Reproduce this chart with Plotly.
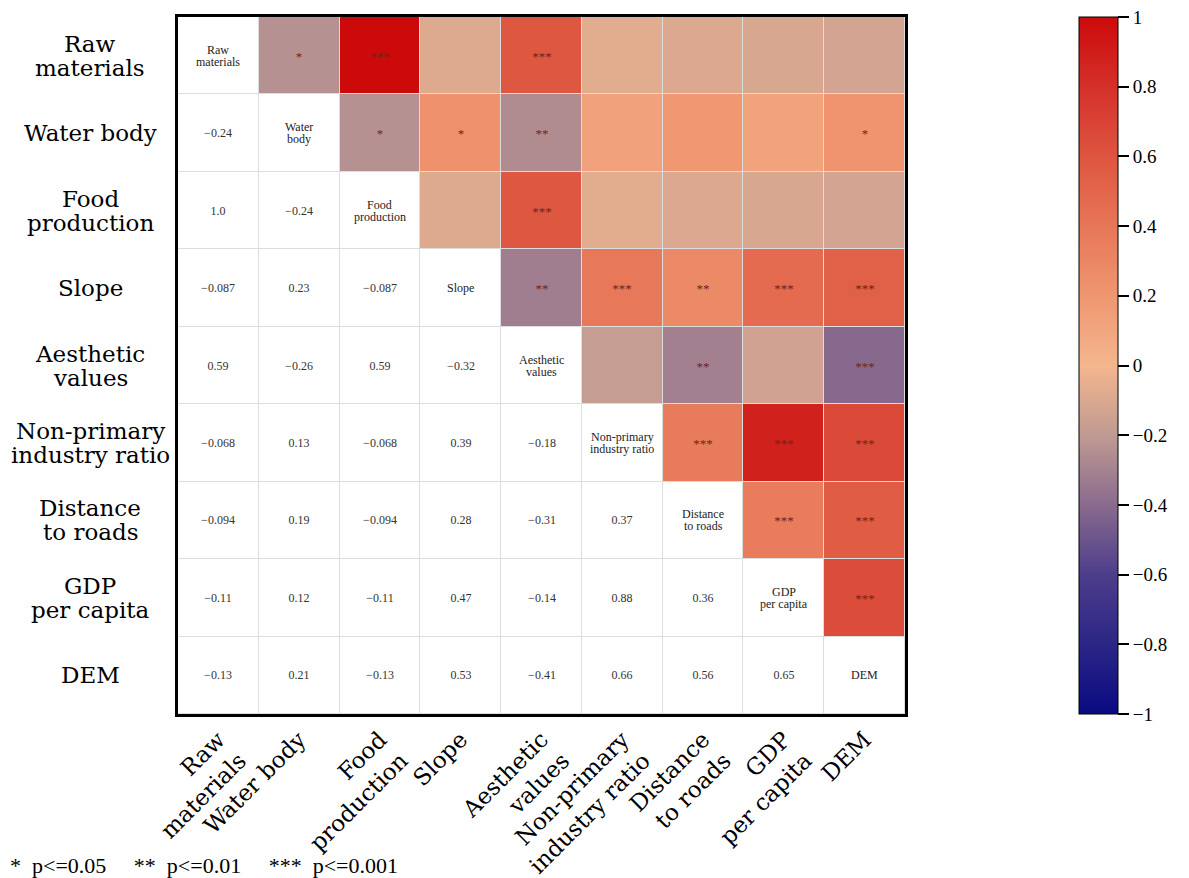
import numpy as np
import plotly.graph_objects as go

labels = ["Raw<br>materials", "Water body", "Food<br>production", "Slope",
          "Aesthetic<br>values", "Non-primary<br>industry ratio",
          "Distance<br>to roads", "GDP<br>per capita", "DEM"]
# the diagonal cells break "Water body" over two lines
diag_labels = ["Raw<br>materials", "Water<br>body", "Food<br>production", "Slope",
               "Aesthetic<br>values", "Non-primary<br>industry ratio",
               "Distance<br>to roads", "GDP<br>per capita", "DEM"]

# lower triangle of the correlation matrix, row by row
corr_rows = [
    [],
    [-0.24],
    [1.0, -0.24],
    [-0.087, 0.23, -0.087],
    [0.59, -0.26, 0.59, -0.32],
    [-0.068, 0.13, -0.068, 0.39, -0.18],
    [-0.094, 0.19, -0.094, 0.28, -0.31, 0.37],
    [-0.11, 0.12, -0.11, 0.47, -0.14, 0.88, 0.36],
    [-0.13, 0.21, -0.13, 0.53, -0.41, 0.66, 0.56, 0.65],
]

# significance stars for the upper triangle, keyed by (row, col)
stars = {
    (0, 1): "*", (0, 2): "***", (0, 4): "***",
    (1, 2): "*", (1, 3): "*", (1, 4): "**", (1, 8): "*",
    (2, 4): "***",
    (3, 4): "**", (3, 5): "***", (3, 6): "**", (3, 7): "***", (3, 8): "***",
    (4, 6): "**", (4, 8): "***",
    (5, 6): "***", (5, 7): "***", (5, 8): "***",
    (6, 7): "***", (6, 8): "***",
    (7, 8): "***",
}

cbar_ticks = [-1, -0.8, -0.6, -0.4, -0.2, 0, 0.2, 0.4, 0.6, 0.8, 1]

colorscale = [
    [0.0, "#0a0a82"], [0.1, "#2b2686"], [0.2, "#4d3d8b"], [0.3, "#8a6b8e"],
    [0.4, "#c09a92"], [0.5, "#f4b68e"], [0.6, "#ef9670"], [0.7, "#e77658"],
    [0.8, "#de5540"], [0.9, "#d5302a"], [1.0, "#cc0a0a"],
]

n = len(labels)
corr = np.eye(n)
for i, row in enumerate(corr_rows):
    for j, v in enumerate(row):
        corr[i, j] = v
        corr[j, i] = v


def fmt(v):
    if v in (-1, 0, 1) and isinstance(v, int):
        return str(v).replace("-", "\u2212")
    s = f"{v:.2g}"
    if "." not in s:
        s += ".0"
    return s.replace("-", "\u2212")


z_up = np.full((n, n), np.nan)
t_up = [["" for _ in range(n)] for _ in range(n)]
z_low = np.full((n, n), np.nan)
t_low = [["" for _ in range(n)] for _ in range(n)]
for i in range(n):
    for j in range(n):
        if j > i:
            z_up[i, j] = corr[i, j]
            t_up[i][j] = stars.get((i, j), "")
        else:
            z_low[i, j] = 0
            t_low[i][j] = "" if i == j else fmt(corr[i, j])

x = list(range(n))
serif = "DejaVu Serif"
numfont = "Liberation Serif"

fig = go.Figure()
fig.add_trace(go.Heatmap(
    z=z_low, x=x, y=x, text=t_low, texttemplate="%{text}",
    textfont=dict(family=numfont, size=12, color="#333333"),
    colorscale=[[0, "white"], [1, "white"]], showscale=False,
    xgap=1, ygap=1, hoverinfo="skip"))
fig.add_trace(go.Heatmap(
    z=z_up, x=x, y=x, text=t_up, texttemplate="%{text}",
    textfont=dict(family=numfont, size=13, color="#6e2418"),
    colorscale=colorscale, zmin=-1, zmax=1, xgap=1, ygap=1,
    colorbar=dict(
        x=1.239, xanchor="left", xref="paper", y=0.5, yanchor="middle",
        len=1.0, lenmode="fraction", thickness=39, ypad=0, xpad=0,
        outlinewidth=1, outlinecolor="black", ticklabeloverflow="allow",
        tickmode="array", tickvals=cbar_ticks,
        ticktext=[fmt(t) for t in cbar_ticks],
        ticks="outside", ticklen=11, tickwidth=2, tickcolor="black",
        tickfont=dict(family=numfont, size=19, color="black"),
    )))

fig.update_xaxes(
    tickmode="array", tickvals=x, ticktext=labels, tickangle=-45,
    tickfont=dict(family=serif, size=23, color="black"),
    range=[-0.5, n - 0.5], showgrid=False, zeroline=False, automargin=False,
    showline=True, linewidth=3, linecolor="black", mirror=True, ticks="")
fig.update_yaxes(
    tickmode="array", tickvals=x, ticktext=[""] * n,
    range=[n - 0.5, -0.5], showgrid=False, zeroline=False, automargin=False,
    showline=True, linewidth=3, linecolor="black", mirror=True, ticks="")


def stacked(text, xref, xval, yval, size, gap, color):
    # multi-line text with tighter line spacing than plotly's default
    lines = text.split("<br>")
    m = len(lines)
    for k, line in enumerate(lines):
        fig.add_annotation(
            text=line, xref=xref, yref="y", x=xval, y=yval,
            xanchor="center", yanchor="middle", showarrow=False,
            yshift=((m - 1) / 2 - k) * gap,
            font=dict(family=serif if size > 15 else numfont, size=size, color=color))


# row labels, centred in the left margin
for i, lab in enumerate(labels):
    stacked(lab, "paper", -0.121, i, 23, 24, "black")

# variable names on the diagonal
for i, lab in enumerate(diag_labels):
    stacked(lab, "x", i, i, 12, 12, "#222222")

fig.add_annotation(
    text="*  p<=0.05     **  p<=0.01     ***  p<=0.001",
    xref="paper", yref="paper", x=-0.2338, y=-0.218, xanchor="left", yanchor="middle",
    showarrow=False, font=dict(family=numfont, size=22, color="black"))

fig.update_layout(
    width=1181, height=870,
    margin=dict(l=170, r=284, t=9, b=164),
    paper_bgcolor="white", plot_bgcolor="#dddddd",
)

fig.write_html("out.html")
